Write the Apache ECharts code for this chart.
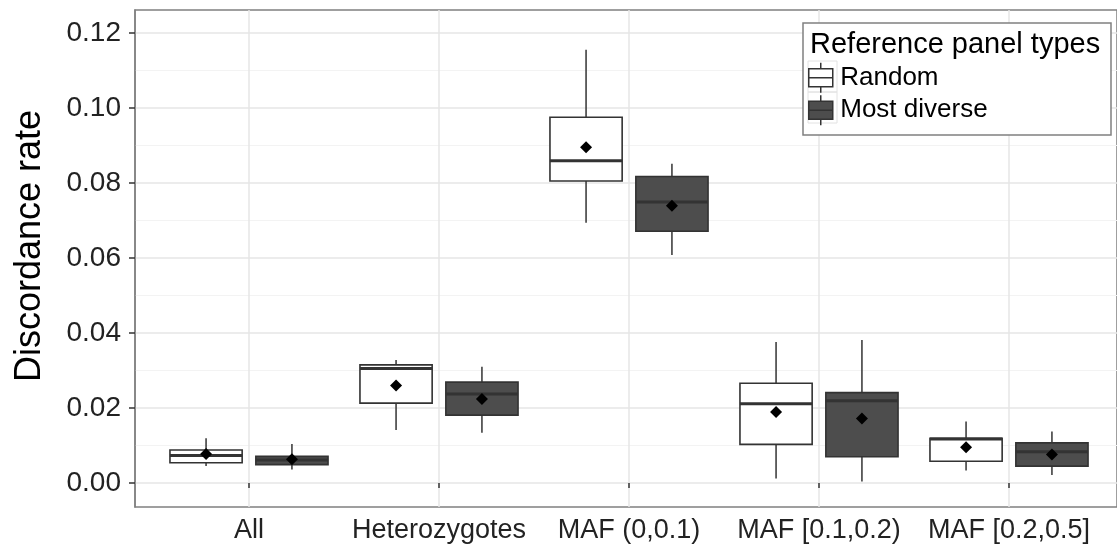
<!DOCTYPE html>
<html>
<head>
<meta charset="utf-8">
<script src="https://cdn.jsdelivr.net/npm/echarts@6/dist/echarts.min.js"></script>
<style>
html, body { margin: 0; padding: 0; background: #fff; }
#chart { width: 1117px; height: 546px; }
</style>
</head>
<body>
<div id="chart"></div>
<script>
// Imputation discordance by variant class, two reference-panel strategies
const categories = ['All', 'Heterozygotes', 'MAF (0,0.1)', 'MAF [0.1,0.2)', 'MAF [0.2,0.5]'];
const seriesNames = ['Random', 'Most diverse'];

// each row: lower whisker, Q1, median, Q3, upper whisker
const randomStats = [
  [0.0045, 0.0054, 0.0073, 0.0088, 0.0119],
  [0.0141, 0.0213, 0.0305, 0.0315, 0.0328],
  [0.0694, 0.0805, 0.0859, 0.0975, 0.1155],
  [0.0012, 0.0103, 0.0211, 0.0266, 0.0376],
  [0.0033, 0.0058, 0.0117, 0.0119, 0.0164]
];
const randomMeans = [0.0077, 0.0260, 0.0895, 0.0189, 0.0095];

const diverseStats = [
  [0.0036, 0.0049, 0.0061, 0.0071, 0.0104],
  [0.0134, 0.0181, 0.0237, 0.0269, 0.0310],
  [0.0608, 0.0671, 0.0749, 0.0817, 0.0851],
  [0.0004, 0.0070, 0.0219, 0.0241, 0.0381],
  [0.0021, 0.0045, 0.0083, 0.0107, 0.0137]
];
const diverseMeans = [0.0063, 0.0224, 0.0739, 0.0172, 0.0076];

const yTicks = [0.00, 0.02, 0.04, 0.06, 0.08, 0.10, 0.12];
const yMinorTicks = [0.01, 0.03, 0.05, 0.07, 0.09, 0.11];

const Y_MIN = -0.0064;
const Y_MAX = 0.1261;
const BOX_WIDTH = 0.38;   // fraction of category spacing
const DODGE = 0.226;      // box centre offset, fraction of category spacing
const FONT = "'Liberation Sans', Arial, Helvetica, sans-serif";
const INK = '#333333';
const TEXT = '#222222';
const DARK_FILL = '#4d4d4d';

function buildRows(stats, means) {
  return stats.map((s, i) => [i, s[0], s[1], s[2], s[3], s[4], means[i]]);
}

function boxRenderer(offset, fill) {
  return function (params, api) {
    const i = api.value(0);
    const band = api.size([1, 0])[0];
    const cx = api.coord([i, 0])[0] + offset * band;
    const half = BOX_WIDTH * band / 2;
    const y = k => api.coord([i, api.value(k)])[1];
    const yLo = y(1), yQ1 = y(2), yMed = y(3), yQ3 = y(4), yHi = y(5), yMean = y(6);
    const d = 6;
    const line = { stroke: INK, lineWidth: 1.5 };
    return {
      type: 'group',
      children: [
        { type: 'line', shape: { x1: cx, y1: yHi, x2: cx, y2: yQ3 }, style: line },
        { type: 'line', shape: { x1: cx, y1: yQ1, x2: cx, y2: yLo }, style: line },
        { type: 'rect', shape: { x: cx - half, y: yQ3, width: 2 * half, height: yQ1 - yQ3 },
          style: { fill: fill, stroke: INK, lineWidth: 1.6 } },
        { type: 'line', shape: { x1: cx - half, y1: yMed, x2: cx + half, y2: yMed },
          style: { stroke: INK, lineWidth: 3 } },
        { type: 'polygon',
          shape: { points: [[cx, yMean - d], [cx + d, yMean], [cx, yMean + d], [cx - d, yMean]] },
          style: { fill: '#000' } }
      ]
    };
  };
}

// boxplot glyph used as legend key
const boxIcon = 'path://M13,0L13,6M1,6L25,6L25,24L1,24ZM1,15L25,15M13,24L13,30';

const chart = echarts.init(document.getElementById('chart'), null, { renderer: 'canvas' });

chart.setOption({
  animation: false,
  backgroundColor: '#fff',
  textStyle: { fontFamily: FONT },
  title: {
    text: 'Reference panel types',
    left: 810, top: 30, padding: 0,
    textStyle: { fontFamily: FONT, fontSize: 29, fontWeight: 'normal', color: '#000' }
  },
  legend: {
    orient: 'vertical',
    left: 808, top: 62, padding: 0,
    itemWidth: 29, itemHeight: 30, itemGap: 1,
    textStyle: { fontFamily: FONT, fontSize: 26, color: '#000' },
    data: [
      { name: seriesNames[0], icon: boxIcon,
        itemStyle: { color: '#fff', borderColor: INK, borderWidth: 1.5 } },
      { name: seriesNames[1], icon: boxIcon,
        itemStyle: { color: DARK_FILL, borderColor: INK, borderWidth: 1.5 } }
    ]
  },
  grid: [
    { left: 135, right: -6, top: 10, bottom: 39, show: true,
      borderColor: '#808080', borderWidth: 1.5, backgroundColor: 'transparent' },
    { left: 249, right: 108, top: 10, bottom: 39 }
  ],
  xAxis: [
    { gridIndex: 0, type: 'value', min: 0, max: 1,
      axisLine: { show: false }, axisTick: { show: false },
      axisLabel: { show: false }, splitLine: { show: false } },
    { gridIndex: 1, type: 'category', data: categories, boundaryGap: false,
      axisLine: { show: false },
      axisTick: { show: true, length: 5, lineStyle: { color: INK, width: 1.5 } },
      axisLabel: { interval: 0, fontFamily: FONT, fontSize: 27, color: TEXT, margin: 10 },
      splitLine: { show: true, lineStyle: { color: '#e6e6e6', width: 1.5 } } }
  ],
  yAxis: [
    { gridIndex: 0, type: 'value', min: Y_MIN, max: Y_MAX, splitNumber: 6,
      axisLine: { show: true, lineStyle: { color: '#808080', width: 1.5 } },
      axisTick: { show: true, length: 6, customValues: yTicks,
        lineStyle: { color: INK, width: 1.5 } },
      axisLabel: { customValues: yTicks, fontFamily: FONT, fontSize: 28, color: TEXT,
        margin: 14, formatter: v => v.toFixed(2) },
      splitLine: { show: true, lineStyle: { color: '#e6e6e6', width: 1.5 } } },
    { gridIndex: 0, type: 'value', min: Y_MIN, max: Y_MAX, position: 'right',
      axisLine: { show: false },
      axisTick: { show: false, customValues: yMinorTicks },
      axisLabel: { show: false, customValues: yMinorTicks },
      splitLine: { show: true, lineStyle: { color: '#f3f3f3', width: 1.2 } } },
    { gridIndex: 1, type: 'value', min: Y_MIN, max: Y_MAX, show: false,
      splitLine: { show: false } }
  ],
  graphic: [
    { type: 'rect', z: 3, shape: { x: 803, y: 23, width: 308, height: 112 },
      style: { fill: '#fff', stroke: '#808080', lineWidth: 1.5 } },
    { type: 'rect', z: 3, shape: { x: 808, y: 61, width: 29, height: 31 },
      style: { fill: 'none', stroke: '#e2e2e2', lineWidth: 1 } },
    { type: 'rect', z: 3, shape: { x: 808, y: 92, width: 29, height: 31 },
      style: { fill: 'none', stroke: '#e2e2e2', lineWidth: 1 } },
    { type: 'text', z: 3, x: 30, y: 246, rotation: Math.PI / 2,
      style: { text: 'Discordance rate', fontFamily: FONT, fontSize: 36, fill: '#000',
        align: 'center', verticalAlign: 'middle' } }
  ],
  series: [
    { name: seriesNames[0], type: 'custom', xAxisIndex: 1, yAxisIndex: 2,
      itemStyle: { color: '#fff', borderColor: INK },
      renderItem: boxRenderer(-DODGE, '#fff'),
      encode: { x: 0, y: [1, 2, 3, 4, 5, 6] },
      data: buildRows(randomStats, randomMeans) },
    { name: seriesNames[1], type: 'custom', xAxisIndex: 1, yAxisIndex: 2,
      itemStyle: { color: DARK_FILL, borderColor: INK },
      renderItem: boxRenderer(DODGE, DARK_FILL),
      encode: { x: 0, y: [1, 2, 3, 4, 5, 6] },
      data: buildRows(diverseStats, diverseMeans) }
  ]
});
</script>
</body>
</html>
